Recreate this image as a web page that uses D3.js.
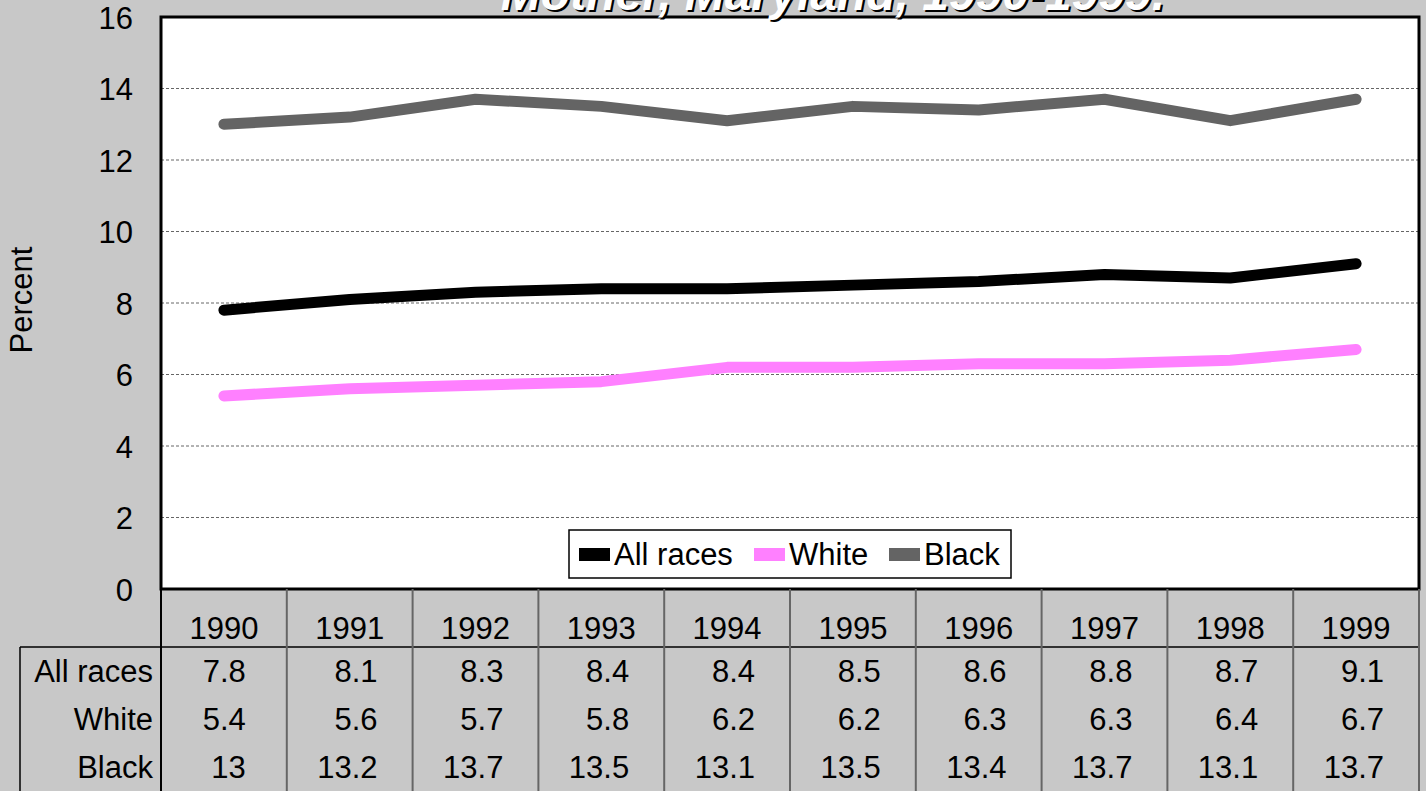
<!DOCTYPE html>
<html>
<head>
<meta charset="utf-8">
<script src="https://cdn.jsdelivr.net/npm/d3@7"></script>
<style>
  body { margin: 0; background: #c8c8c8; }
  svg { display: block; font-family: Arial, "Liberation Sans", sans-serif; }
</style>
</head>
<body>
<svg id="chart" width="1426" height="791"></svg>
<script>
var years = ["1990", "1991", "1992", "1993", "1994", "1995", "1996", "1997", "1998", "1999"];
var allRaces = [7.8, 8.1, 8.3, 8.4, 8.4, 8.5, 8.6, 8.8, 8.7, 9.1];
var white = [5.4, 5.6, 5.7, 5.8, 6.2, 6.2, 6.3, 6.3, 6.4, 6.7];
var black = [13, 13.2, 13.7, 13.5, 13.1, 13.5, 13.4, 13.7, 13.1, 13.7];
var yTicks = [0, 2, 4, 6, 8, 10, 12, 14, 16];
var seriesNames = ["All races", "White", "Black"];
var seriesColors = ["#000000", "#ff80ff", "#646464"];
var titleText = "Mother, Maryland, 1990-1999.";

var series = seriesNames.map(function(name, i){
	return {name: name, values: [allRaces, white, black][i], color: seriesColors[i]};
});

var svg = d3.select("#chart");
var w = 1426, h = 791;
var plotLeft = 161, plotRight = 1419, plotTop = 17, plotBottom = 589;

var x = d3.scaleBand().domain(years).range([plotLeft, plotRight]);
var y = d3.scaleLinear().domain([0, 16]).range([plotBottom, plotTop]);

svg.append("rect").attr("width", w).attr("height", h).attr("fill", "#c8c8c8");

// plot area
svg.append("rect")
	.attr("x", plotLeft).attr("y", plotTop)
	.attr("width", plotRight - plotLeft).attr("height", plotBottom - plotTop)
	.attr("fill", "#ffffff");

// gridlines
svg.selectAll("line.grid")
	.data(yTicks.filter(function(d){ return d > 0 && d < 16; }))
	.enter().append("line")
	.attr("class", "grid")
	.attr("x1", plotLeft).attr("x2", plotRight)
	.attr("y1", function(d){ return y(d); })
	.attr("y2", function(d){ return y(d); })
	.attr("stroke", "#666")
	.attr("stroke-width", 1)
	.attr("stroke-dasharray", "3,2");

// y axis labels
var yAxis = d3.axisLeft(y).tickValues(yTicks).tickSize(0).tickPadding(0);
var yg = svg.append("g").attr("transform", "translate(133,0)").call(yAxis);
yg.select(".domain").remove();
yg.selectAll("text")
	.attr("font-size", "31px")
	.attr("font-family", "Arial, 'Liberation Sans', sans-serif")
	.attr("fill", "#000")
	.attr("dy", "0.36em");

svg.append("text")
	.attr("transform", "translate(32,300) rotate(-90)")
	.attr("text-anchor", "middle")
	.attr("font-size", "31px")
	.text("Percent");

// lines
var line = d3.line()
	.x(function(d, i){ return x(years[i]) + x.bandwidth() / 2; })
	.y(function(d){ return y(d); });

svg.selectAll("path.series")
	.data(series)
	.enter().append("path")
	.attr("class", "series")
	.attr("d", function(s){ return line(s.values); })
	.attr("fill", "none")
	.attr("stroke", function(s){ return s.color; })
	.attr("stroke-width", 11)
	.attr("stroke-linecap", "round")
	.attr("stroke-linejoin", "round");

// legend
var legend = svg.append("g");
legend.append("rect")
	.attr("x", 569).attr("y", 530)
	.attr("width", 442).attr("height", 48)
	.attr("fill", "#fff").attr("stroke", "#000").attr("stroke-width", 1.5);
var legendX = [579, 754, 889];
var item = legend.selectAll("g.item")
	.data(series)
	.enter().append("g")
	.attr("class", "item")
	.attr("transform", function(d, i){ return "translate(" + legendX[i] + ",554)"; });
item.append("rect")
	.attr("x", 0).attr("y", -6)
	.attr("width", 31).attr("height", 13)
	.attr("fill", function(d){ return d.color; });
item.append("text")
	.attr("x", 35).attr("dy", "0.36em")
	.attr("font-size", "31px")
	.text(function(d){ return d.name; });

// plot border
svg.append("rect")
	.attr("x", plotLeft).attr("y", plotTop)
	.attr("width", plotRight - plotLeft).attr("height", plotBottom - plotTop)
	.attr("fill", "none").attr("stroke", "#000").attr("stroke-width", 3);

// data table
var headerBottom = 647, rowH = 48;
var table = svg.append("g");
table.append("line")
	.attr("x1", 20).attr("x2", plotRight)
	.attr("y1", headerBottom).attr("y2", headerBottom)
	.attr("stroke", "#000").attr("stroke-width", 1.5);
table.append("line")
	.attr("x1", 20).attr("x2", 20)
	.attr("y1", headerBottom).attr("y2", h)
	.attr("stroke", "#000").attr("stroke-width", 1.5);
table.selectAll("line.col")
	.data(years.concat(["end"]))
	.enter().append("line")
	.attr("class", "col")
	.attr("x1", function(d, i){ return plotLeft + i * x.bandwidth(); })
	.attr("x2", function(d, i){ return plotLeft + i * x.bandwidth(); })
	.attr("y1", plotBottom).attr("y2", h)
	.attr("stroke", function(d, i){ return i === 0 ? "#000" : "#666"; })
	.attr("stroke-width", 2);

table.selectAll("text.year")
	.data(years)
	.enter().append("text")
	.attr("class", "year")
	.attr("x", function(d){ return x(d) + x.bandwidth() / 2; })
	.attr("y", 628).attr("dy", "0.36em")
	.attr("text-anchor", "middle")
	.attr("font-size", "31px")
	.text(function(d){ return d; });

var rows = table.selectAll("g.row")
	.data(series)
	.enter().append("g")
	.attr("class", "row")
	.attr("transform", function(d, i){ return "translate(0," + (headerBottom + rowH * i + rowH / 2) + ")"; });
rows.append("text")
	.attr("x", 153).attr("dy", "0.36em")
	.attr("text-anchor", "end")
	.attr("font-size", "31px")
	.text(function(d){ return d.name; });
rows.selectAll("text.val")
	.data(function(d){ return d.values; })
	.enter().append("text")
	.attr("class", "val")
	.attr("x", function(d, i){ return x(years[i]) + x.bandwidth() - (i === 0 ? 41 : 35); })
	.attr("dy", "0.36em")
	.attr("text-anchor", "end")
	.attr("font-size", "31px")
	.text(function(d){ return d; });

// title (only the lower part is visible in the frame)
var title = svg.append("g")
	.attr("font-size", "48px").attr("font-weight", "bold").attr("font-style", "italic")
	.attr("text-anchor", "middle");
title.append("text").attr("x", 835).attr("y", 12).attr("fill", "#000").text(titleText);
title.append("text").attr("x", 833).attr("y", 10).attr("fill", "#fff").text(titleText);
</script>
</body>
</html>
